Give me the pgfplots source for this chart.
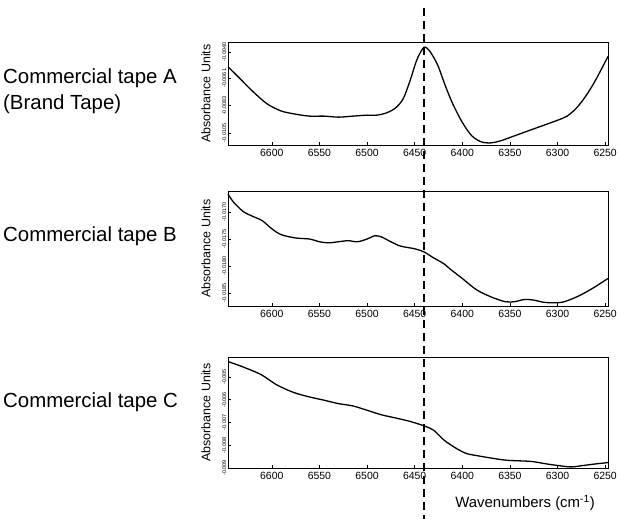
\documentclass[border=0pt]{standalone}
\usepackage{pgfplots}
\pgfplotsset{compat=1.18}
\usepackage{fontspec}
\setmainfont{Liberation Sans}
\begin{document}
\begin{tikzpicture}
\useasboundingbox (0bp,0bp) rectangle (620bp,-519bp);
\pgfplotsset{
  spec/.style={
    scale only axis, width=380bp, anchor=north west,
    x dir=reverse, xmin=6247, xmax=6646,
    xtick={6250,6300,...,6600},
    scaled y ticks=false, scaled x ticks=false,
    axis line style={line width=0.9bp},
    every tick/.style={black, line width=0.6bp},
    tick align=inside, major tick length=3bp, minor tick length=2bp,
    xtick pos=bottom, ytick pos=left,
    /pgf/number format/1000 sep={},
    /pgf/number format/assume math mode=true,
    xticklabel style={font=\fontsize{10.5}{12}\selectfont, yshift=-1bp},
    yticklabel style={rotate=90, anchor=south, font=\fontsize{5.5}{6}\selectfont, inner sep=1.5bp},
    ylabel={Absorbance Units},
    every axis y label/.style={at={(axis description cs:-0.058,0.5)}, rotate=90, anchor=center, font=\fontsize{12.5}{14}\selectfont},
    clip=false,
  },
  curve/.style={black, line width=1.3bp, smooth, tension=0.5, no marks},
}
% Panel A
\begin{axis}[spec, at={(228bp,-42bp)}, height=103bp,
  ymin=-0.01147, ymax=-0.00319,
  ytick={-0.0105,-0.0083,-0.0061,-0.0040},
  yticklabels={-0.0105,-0.0083,-0.0061,-0.0040},
  minor y tick num=2]
\addplot[curve] coordinates {
(6646,-0.00518) (6635,-0.00601) (6620,-0.00716) (6605,-0.00816) (6590,-0.00874)
(6575,-0.00899) (6560,-0.00915) (6545,-0.00915) (6530,-0.00923) (6515,-0.00915)
(6500,-0.00907) (6490,-0.00907) (6480,-0.00890) (6470,-0.00849) (6462,-0.00774)
(6455,-0.00634) (6448,-0.00468) (6442,-0.00377) (6439,-0.00360) (6434,-0.00394)
(6426,-0.00501) (6418,-0.00667) (6410,-0.00816) (6400,-0.00965) (6390,-0.01073)
(6380,-0.01122) (6370,-0.01130) (6360,-0.01114) (6345,-0.01073) (6330,-0.01031)
(6315,-0.00990) (6300,-0.00948) (6290,-0.00915) (6280,-0.00849) (6270,-0.00750)
(6260,-0.00625) (6247,-0.00435)};
\coordinate (dl) at (axis cs:6440,-0.00319);
\end{axis}
% Panel B
\begin{axis}[spec, at={(228bp,-191bp)}, height=115bp,
  ymin=-0.01874, ymax=-0.01661,
  ytick={-0.0185,-0.0180,-0.0175,-0.0170},
  yticklabels={-0.0185,-0.0180,-0.0175,-0.0170}]
\addplot[curve] coordinates {
(6646,-0.01667) (6640,-0.01682) (6630,-0.01699) (6620,-0.01708) (6610,-0.01716)
(6600,-0.01731) (6590,-0.01742) (6575,-0.01748) (6560,-0.01750) (6550,-0.01755)
(6540,-0.01757) (6530,-0.01755) (6520,-0.01753) (6510,-0.01755) (6500,-0.01750)
(6492,-0.01744) (6485,-0.01746) (6475,-0.01755) (6465,-0.01763) (6450,-0.01768)
(6440,-0.01774) (6430,-0.01785) (6420,-0.01795) (6411,-0.01808) (6400,-0.01823)
(6385,-0.01844) (6370,-0.01857) (6355,-0.01866) (6345,-0.01866) (6335,-0.01862)
(6325,-0.01863) (6315,-0.01867) (6305,-0.01868) (6295,-0.01867) (6285,-0.01861)
(6275,-0.01853) (6262,-0.01840) (6247,-0.01823)};
\end{axis}
% Panel C
\begin{axis}[spec, at={(228bp,-357bp)}, height=111bp,
  ymin=-0.009, ymax=-0.00412,
  ytick={-0.009,-0.008,-0.007,-0.006,-0.005},
  yticklabels={-0.009,-0.008,-0.007,-0.006,-0.005},
  xlabel={Wavenumbers (cm\textsuperscript{-1})},
  every axis x label/.style={at={(axis description cs:0.782,0)}, anchor=center, yshift=-35bp, font=\fontsize{15}{17}\selectfont}]
\addplot[curve] coordinates {
(6646,-0.00432) (6630,-0.00456) (6611,-0.00490) (6595,-0.00534) (6577,-0.00568)
(6560,-0.00588) (6545,-0.00602) (6530,-0.00617) (6515,-0.00627) (6500,-0.00646)
(6485,-0.00666) (6470,-0.00680) (6455,-0.00695) (6440,-0.00715) (6430,-0.00734)
(6419,-0.00778) (6405,-0.00817) (6395,-0.00837) (6384,-0.00846) (6370,-0.00856)
(6353,-0.00866) (6328,-0.00871) (6310,-0.00883) (6287,-0.00895) (6275,-0.00890)
(6262,-0.00883) (6251,-0.00878) (6247,-0.00876)};
\end{axis}
% dashed reference line
\draw[black, line width=1.4bp, dash pattern=on 8bp off 5bp] (dl |- 0bp,-8bp) -- (dl |- 0bp,-519bp);
% titles
\begin{scope}[every node/.style={anchor=west, inner sep=0pt, font=\fontsize{20.5}{23}\selectfont}]
\node at (3bp,-78bp) {Commercial tape A};
\node at (3bp,-104bp) {(Brand Tape)};
\node at (3bp,-236bp) {Commercial tape B};
\node at (3bp,-402bp) {Commercial tape C};
\end{scope}
\end{tikzpicture}
\end{document}
